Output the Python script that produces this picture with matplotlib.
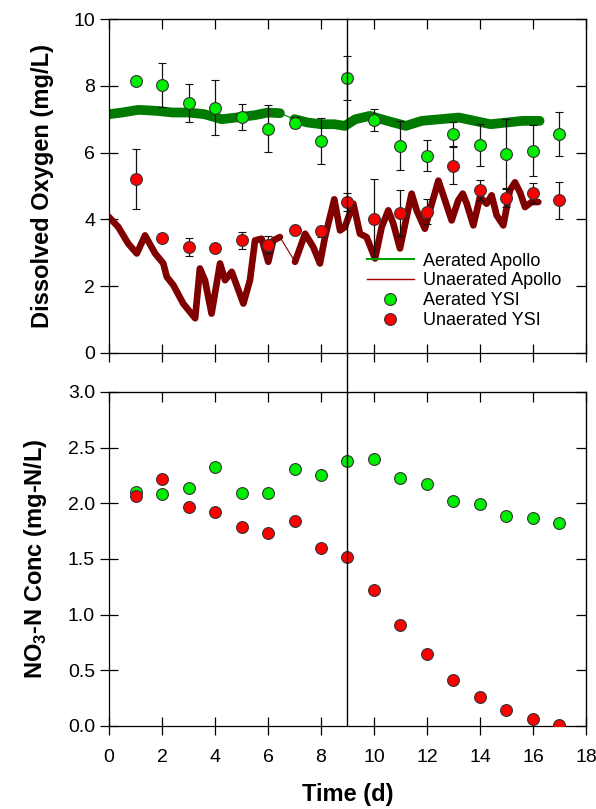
"""Dissolved oxygen and nitrate over time, aerated vs unaerated."""
import matplotlib
matplotlib.use("Agg")
import matplotlib.pyplot as plt
import numpy as np
from matplotlib.patches import ConnectionPatch

matplotlib.rcParams.update({
    "font.family": ["Liberation Sans", "DejaVu Sans"],
    "mathtext.fontset": "custom",
    "mathtext.bf": "Liberation Sans:bold",
    "mathtext.rm": "Liberation Sans",
})

# YSI spot measurements (days 1..17)
days = list(range(1, 18))
do_aer = [8.15, 8.02, 7.48, 7.35, 7.07, 6.72, 6.90, 6.35, 8.24,
          6.98, 6.21, 5.91, 6.56, 6.23, 5.97, 6.06, 6.56]
do_aer_err = [0.0, 0.66, 0.56, 0.83, 0.40, 0.70, 0.16, 0.70, 0.66,
              0.33, 0.73, 0.47, 0.36, 0.63, 1.03, 0.77, 0.66]
do_unaer = [5.21, 3.43, 3.16, 3.13, 3.37, 3.24, 3.69, 3.64, 4.52,
            4.01, 4.20, 4.23, 5.61, 4.87, 4.64, 4.79, 4.57]
do_unaer_err = [0.91, 0.05, 0.27, 0.0, 0.25, 0.26, 0.05, 0.16, 0.27,
                1.20, 0.69, 0.37, 0.56, 0.30, 0.27, 0.30, 0.56]

# nitrate
no3_aer = [2.10, 2.08, 2.14, 2.33, 2.09, 2.09, 2.31, 2.25, 2.38,
           2.40, 2.23, 2.17, 2.02, 1.99, 1.89, 1.87, 1.82]
no3_unaer = [2.07, 2.22, 1.97, 1.92, 1.79, 1.73, 1.84, 1.60, 1.52,
             1.22, 0.91, 0.65, 0.41, 0.26, 0.14, 0.06, 0.01]

# Apollo continuous logger
apollo_aer_t = [0.0, 0.5, 1.1, 1.8, 2.4, 3.0, 3.6, 4.25, 4.8, 5.5, 6.0, 6.45,
                7.0, 7.5, 8.0, 8.5, 8.9, 9.3, 9.85, 10.5, 11.2, 11.8, 12.5,
                13.2, 13.8, 14.4, 15.0, 15.6, 16.25]
apollo_aer = [7.15, 7.2, 7.28, 7.25, 7.2, 7.2, 7.15, 7.0, 7.05, 7.12, 7.2, 7.18,
              7.0, 6.9, 6.85, 6.85, 6.8, 7.0, 7.1, 6.95, 6.8, 6.95, 7.0,
              7.05, 6.95, 6.85, 6.9, 6.95, 6.95]
apollo_unaer_t = [0.0, 0.35, 0.73, 1.05, 1.36, 1.74, 2.05, 2.18, 2.43, 2.8, 3.25,
                  3.43, 3.62, 3.87, 4.19, 4.38, 4.63, 5.07, 5.32, 5.51, 5.76,
                  6.01, 6.2, 6.45,
                  7.02, 7.4, 7.71, 7.96, 8.15, 8.4, 8.5, 8.72, 8.9, 9.22, 9.47,
                  9.72, 10.04, 10.29, 10.54, 10.73, 10.98, 11.23, 11.42, 11.61,
                  11.92, 12.11, 12.43, 12.68, 12.93, 13.18, 13.35, 13.5, 13.75,
                  14.0, 14.25, 14.44, 14.63, 14.88, 15.13, 15.32, 15.51, 15.7,
                  15.95, 16.2]
apollo_unaer = [4.07, 3.77, 3.27, 2.98, 3.52, 2.98, 2.68, 2.28, 2.03, 1.48, 1.04,
                2.53, 2.18, 1.18, 2.68, 2.18, 2.43, 1.48, 2.18, 3.37, 3.42,
                2.73, 3.37, 3.47,
                2.73, 3.57, 3.17, 2.68, 3.47, 4.27, 4.6, 3.67, 3.77, 4.47, 3.57,
                3.47, 2.83, 3.77, 4.27, 3.87, 3.13, 4.07, 4.77, 4.27,
                3.72, 4.27, 5.16, 4.57, 3.97, 4.57, 4.77, 4.47, 3.82,
                4.67, 4.47, 4.72, 4.12, 3.82, 4.87, 5.11, 4.81, 4.37,
                4.52, 4.52]

GREEN_LINE = "#007a00"
RED_LINE = "#800000"
GREEN_PT = "#00ee00"
RED_PT = "#ff0000"
GAP = (6.5, 6.95)  # logger gap, drawn as thin connector only

fig = plt.figure(figsize=(5.96, 8.09), dpi=100)
ax1 = fig.add_axes([0.1829, 0.5637, 0.8003, 0.4128])
ax2 = fig.add_axes([0.1829, 0.1026, 0.8003, 0.4129])


def thick_trace(ax, t, y, color, lw):
    t = np.asarray(t)
    y = np.asarray(y)
    ax.plot(t, y, color=color, lw=0.8, zorder=2)
    for m in (t <= GAP[0], t >= GAP[1]):
        ax.plot(t[m], y[m], color=color, lw=lw, solid_capstyle="round",
                solid_joinstyle="round", zorder=2)


thick_trace(ax1, apollo_aer_t, apollo_aer, GREEN_LINE, 7)
thick_trace(ax1, apollo_unaer_t, apollo_unaer, RED_LINE, 4.8)

pt = dict(fmt="o", ms=8.5, mec="#333333", mew=0.8, ecolor="#111111",
          elinewidth=0.9, capsize=3, capthick=0.9, zorder=3)
ax1.errorbar(days, do_aer, yerr=do_aer_err, mfc=GREEN_PT, **pt)
ax1.errorbar(days, do_unaer, yerr=do_unaer_err, mfc=RED_PT, **pt)

# legend proxies
h = [
    plt.Line2D([], [], color="#00a000", lw=1.5),
    plt.Line2D([], [], color="#a00000", lw=1.0),
    plt.Line2D([], [], ls="none", marker="o", ms=8.5, mfc=GREEN_PT, mec="#333333", mew=0.8),
    plt.Line2D([], [], ls="none", marker="o", ms=8.5, mfc=RED_PT, mec="#333333", mew=0.8),
]
ax1.legend(h, ["Aerated Apollo", "Unaerated Apollo", "Aerated YSI", "Unaerated YSI"],
           loc="upper left", bbox_to_anchor=(0.54, 0.30), frameon=False,
           fontsize=13, borderpad=0, borderaxespad=0, labelspacing=0.15,
           handlelength=2.6, handletextpad=0.5)

mk = dict(ls="none", marker="o", ms=8.5, mec="#333333", mew=0.8, zorder=3)
ax2.plot(days, no3_aer, mfc=GREEN_PT, **mk)
ax2.plot(days, no3_unaer, mfc=RED_PT, **mk)

ax1.set_xlim(0, 18)
ax1.set_ylim(0, 10)
ax1.set_yticks(np.arange(0, 11, 2))
ax2.set_xlim(0, 18)
ax2.set_ylim(0, 3)
ax2.set_yticks(np.arange(0, 3.01, 0.5))
ax2.set_yticklabels([f"{v:.1f}" for v in np.arange(0, 3.01, 0.5)])
for ax in (ax1, ax2):
    ax.set_xticks(np.arange(0, 19, 2))
    ax.tick_params(axis="both", which="both", direction="inout", length=13,
                   width=0.9, labelsize=14, top=False, right=False)
    ax.tick_params(axis="x", pad=10)
    ax.secondary_xaxis("top").tick_params(direction="in", length=7, width=0.9,
                                          labeltop=False)
    ax.secondary_yaxis("right").tick_params(direction="in", length=7, width=0.9,
                                            labelright=False)
    for s in ax.spines.values():
        s.set_linewidth(0.9)
ax1.tick_params(axis="x", labelbottom=False)

ax1.set_ylabel("Dissolved Oxygen (mg/L)", fontsize=17, fontweight="bold", labelpad=14)
ax2.set_ylabel(r"NO$_{\mathbf{3}}$-N Conc (mg-N/L)", fontsize=17, fontweight="bold", labelpad=14)
ax2.set_xlabel("Time (d)", fontsize=17, fontweight="bold", labelpad=12)

# day 9 marker line through both panels
con = ConnectionPatch(xyA=(9, 10), coordsA=ax1.transData, xyB=(9, 0), coordsB=ax2.transData,
                      color="black", lw=1.0, zorder=5)
fig.add_artist(con)

fig.savefig("out.png", dpi=100)
